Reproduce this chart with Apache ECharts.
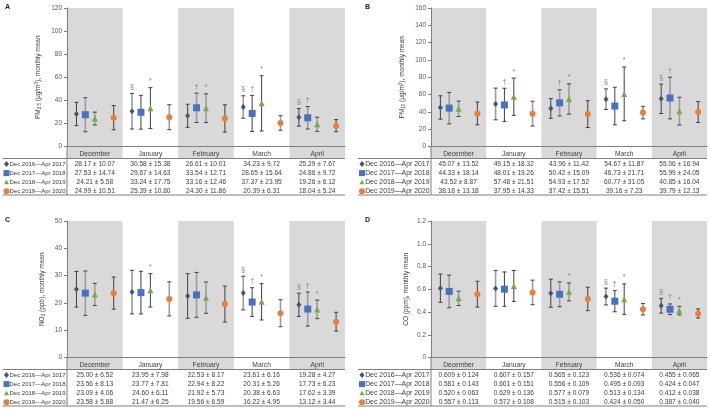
<!DOCTYPE html>
<html>
<head>
<meta charset="UTF-8">
<title>Air pollutants monthly mean</title>
<script src="https://cdn.jsdelivr.net/npm/echarts@6/dist/echarts.min.js"></script>
</head>
<body style="margin:0">
<div id="main" style="width:710px;height:409px"></div>
<script>
// categories
var months = ['December', 'January', 'February', 'March', 'April'];
var periods = ['Dec 2016\u2014Apr 2017', 'Dec 2017\u2014Apr 2018', 'Dec 2018\u2014Apr 2019', 'Dec 2019\u2014Apr 2020'];

// PM2.5 (ug/m3) mean and SD, one row per period
var pm25Mean = [
  [28.17, 30.58, 26.61, 34.23, 25.29],
  [27.53, 29.67, 33.54, 28.65, 24.86],
  [24.21, 33.24, 33.16, 37.37, 19.26],
  [24.99, 25.39, 24.30, 20.39, 18.04]
];
var pm25Sd = [
  [10.07, 15.38, 10.01, 9.72, 7.67],
  [14.74, 14.63, 12.71, 15.64, 9.72],
  [5.58, 17.75, 12.46, 23.95, 6.12],
  [10.51, 10.80, 11.86, 6.31, 5.24]
];
var pm25Marks = [
  ['', '\u00a7', '', '\u00a7', '\u00a7'],
  ['', '', '\u2020', '\u2020', '\u2020'],
  ['', '*', '*', '*', ''],
  ['', '', '', '', '']
];

// PM10
var pm10Mean = [
  [45.07, 49.15, 43.96, 54.67, 55.06],
  [44.33, 48.01, 50.42, 46.73, 55.99],
  [43.52, 57.48, 54.93, 60.77, 40.85],
  [38.18, 37.95, 37.42, 39.16, 39.79]
];
var pm10Sd = [
  [13.52, 18.32, 11.42, 11.87, 16.94],
  [18.14, 19.26, 15.09, 21.71, 24.05],
  [8.87, 21.51, 17.52, 31.05, 16.04],
  [13.18, 14.33, 15.51, 7.23, 12.13]
];
var pm10Marks = [
  ['', '', '', '\u00a7', '\u00a7'],
  ['', '\u2020', '\u2020', '', '\u2020'],
  ['', '*', '*', '*', ''],
  ['', '', '', '', '']
];

// NO2 (ppb)
var no2Mean = [
  [25.00, 23.95, 22.53, 23.61, 19.28],
  [23.56, 23.77, 22.94, 20.31, 17.73],
  [23.09, 24.60, 21.92, 20.38, 17.62],
  [23.58, 21.47, 19.56, 16.22, 13.12]
];
var no2Sd = [
  [6.52, 7.98, 8.17, 6.16, 4.27],
  [8.13, 7.81, 8.22, 5.26, 6.23],
  [4.06, 6.11, 5.73, 6.63, 3.39],
  [5.88, 6.25, 6.59, 4.95, 3.44]
];
var no2Marks = [
  ['', '', '', '\u00a7', '\u00a7'],
  ['', '', '', '\u2020', '\u2020'],
  ['', '*', '', '*', '*'],
  ['', '', '', '', '']
];

// CO (ppm)
var coMean = [
  [0.609, 0.607, 0.565, 0.536, 0.455],
  [0.581, 0.601, 0.556, 0.495, 0.424],
  [0.520, 0.629, 0.577, 0.513, 0.412],
  [0.557, 0.572, 0.515, 0.424, 0.387]
];
var coSd = [
  [0.124, 0.157, 0.123, 0.074, 0.065],
  [0.143, 0.151, 0.109, 0.093, 0.047],
  [0.063, 0.136, 0.079, 0.134, 0.038],
  [0.113, 0.108, 0.103, 0.050, 0.040]
];
var coMarks = [
  ['', '', '', '\u00a7', '\u00a7'],
  ['', '', '', '\u2020', '\u2020'],
  ['', '', '*', '*', '*'],
  ['', '', '', '', '']
];

// tick settings
var pm25Ticks = {max: 120, interval: 20};
var pm10Ticks = {max: 160, interval: 20};
var no2Ticks = {max: 50, interval: 10};
var coTicks = {max: 1.2, interval: 0.2};

var FONT = 'Liberation Sans';
var colors = ['#44546A', '#4472C4', '#70AD47', '#ED7D31'];
var symbols = ['diamond', 'rect', 'triangle', 'circle'];
var symSizes = [[5, 6], 7, 6, 6];
var offs = [0.17, 0.33, 0.5, 0.84];
var DARK = '#3f3f3f', LIGHT = '#9c9c9c';

var panels = [
  {tag: 'A', mean: pm25Mean, sd: pm25Sd, marks: pm25Marks, ticks: pm25Ticks, dec: 2,
   x0: 0, symX: 6.5, rowFont: 6, left: 67, width: 278, top: 8, height: 138.5, nameGap: 25,
   name: 'PM{sub|2.5} (\u03bcg/m{sup|3}), monthly mean'},
  {tag: 'B', mean: pm10Mean, sd: pm10Sd, marks: pm10Marks, ticks: pm10Ticks, dec: 2,
   x0: 360, symX: 362, rowFont: 6.9, left: 431, width: 276, top: 8, height: 138.5, nameGap: 25,
   name: 'PM{sub|10} (\u03bcg/m{sup|3}), monthly mean'},
  {tag: 'C', mean: no2Mean, sd: no2Sd, marks: no2Marks, ticks: no2Ticks, dec: 2,
   x0: 0, symX: 6.5, rowFont: 6, left: 67, width: 278, top: 221, height: 136.5, nameGap: 21,
   name: 'NO{sub|2} (ppb), monthly mean'},
  {tag: 'D', mean: coMean, sd: coSd, marks: coMarks, ticks: coTicks, dec: 3,
   x0: 360, symX: 362, rowFont: 6.9, left: 431, width: 276, top: 221, height: 136.5, nameGap: 21,
   name: 'CO (ppm), monthly mean'}
];

function barColor(s, m) {
  if (m % 2 === 0) return [DARK, LIGHT, LIGHT, DARK][s];
  return [LIGHT, DARK, DARK, LIGHT][s];
}

var grids = [], xAxes = [], yAxes = [], series = [];

panels.forEach(function (p, pi) {
  grids.push({left: p.left, width: p.width, top: p.top, height: p.height});
  // hidden value axis used to place the points inside each month
  xAxes.push({type: 'value', gridIndex: pi, min: 0, max: 5, show: false});
  // month labels + zero line
  xAxes.push({
    type: 'category', gridIndex: pi, data: months, position: 'bottom',
    axisLine: {lineStyle: {color: '#7f7f7f', width: 1}},
    axisTick: {show: false},
    axisLabel: {fontSize: 6.7, color: '#404040', fontFamily: FONT, margin: 4, interval: 0},
    splitLine: {show: false}
  });
  yAxes.push({
    type: 'value', gridIndex: pi, min: 0, max: p.ticks.max, interval: p.ticks.interval,
    name: p.name, nameLocation: 'middle', nameGap: p.nameGap, nameRotate: 90,
    nameTextStyle: {
      fontSize: 6.5, color: '#404040', fontFamily: FONT,
      rich: {
        sub: {fontSize: 4.5, verticalAlign: 'bottom', fontFamily: FONT, color: '#404040', padding: [3, 0, 0, 0]},
        sup: {fontSize: 4.5, verticalAlign: 'top', fontFamily: FONT, color: '#404040', padding: [0, 0, 3, 0]}
      }
    },
    axisLine: {show: true, lineStyle: {color: '#7f7f7f'}},
    axisTick: {show: true, length: 3, lineStyle: {color: '#7f7f7f'}},
    splitLine: {show: false},
    axisLabel: {
      fontSize: 6.5, color: '#595959', fontFamily: FONT, margin: 5,
      formatter: function (v) {
        if (v === 0) return '0';
        return p.dec === 3 ? v.toFixed(1) : String(Math.round(v));
      }
    }
  });

  // error bars
  var barData = [];
  var barMarks = [];
  for (var s = 0; s < 4; s++) {
    for (var m = 0; m < 5; m++) {
      barData.push([m + offs[s], p.mean[s][m] - p.sd[s][m], p.mean[s][m] + p.sd[s][m], s, m]);
      barMarks.push(p.marks[s][m]);
    }
  }
  series.push({
    type: 'custom', xAxisIndex: pi * 2, yAxisIndex: pi, clip: false, z: 1,
    data: barData,
    renderItem: function (params, api) {
      var x = api.value(0);
      var lo = api.coord([x, api.value(1)]);
      var hi = api.coord([x, api.value(2)]);
      var s = api.value(3), m = api.value(4);
      var col = barColor(s, m);
      var lw = col === LIGHT ? 1.6 : 1;
      var st = {stroke: col, lineWidth: lw};
      var ch = [
        {type: 'line', shape: {x1: lo[0], y1: lo[1], x2: hi[0], y2: hi[1]}, style: st},
        {type: 'line', shape: {x1: lo[0] - 2, y1: lo[1], x2: lo[0] + 2, y2: lo[1]}, style: {stroke: DARK, lineWidth: 1}},
        {type: 'line', shape: {x1: hi[0] - 2, y1: hi[1], x2: hi[0] + 2, y2: hi[1]}, style: {stroke: DARK, lineWidth: 1}}
      ];
      var mk = barMarks[params.dataIndex];
      if (mk) {
        ch.push({type: 'text', style: {
          text: mk, x: hi[0], y: hi[1] - 3, align: 'center', verticalAlign: 'bottom',
          fill: '#7f7f7f', font: '7px "' + FONT + '"'
        }});
      }
      return {type: 'group', children: ch};
    }
  });

  // markers
  for (var s2 = 0; s2 < 4; s2++) {
    series.push({
      type: 'scatter', xAxisIndex: pi * 2, yAxisIndex: pi, z: 3,
      symbol: symbols[s2], symbolSize: symSizes[s2],
      itemStyle: {color: colors[s2], opacity: 1},
      data: p.mean[s2].map(function (v, m) { return [m + offs[s2], v]; })
    });
  }
});

var chart = echarts.init(document.getElementById('main'), null, {renderer: 'canvas'});
chart.setOption({
  animation: false,
  backgroundColor: '#fff',
  grid: grids,
  xAxis: xAxes,
  yAxis: yAxes,
  series: series
});

// bands, table and panel letters
var g = [];
panels.forEach(function (p, pi) {
  var xa = {xAxisIndex: pi * 2};
  var ya = {yAxisIndex: pi};
  var X = function (v) { return chart.convertToPixel(xa, v); };
  var yTop = chart.convertToPixel(ya, p.ticks.max);
  var Z = chart.convertToPixel(ya, 0);
  var headLine = Z + 12;
  var bottomLine = Z + 48.5;
  var right = X(5);

  g.push({type: 'text', left: p.x0 + 5, top: p.top - 4, z: 10,
    style: {text: p.tag, font: 'bold 7px "' + FONT + '"', fill: '#222'}});

  [0, 2, 4].forEach(function (m) {
    g.push({type: 'rect', z: -1, shape: {x: X(m), y: yTop, width: X(m + 1) - X(m), height: headLine - yTop},
      style: {fill: '#d9d9d9'}});
  });

  var lx = p.symX - 4;
  g.push({type: 'line', z: 10, shape: {x1: lx, y1: headLine, x2: right, y2: headLine},
    style: {stroke: '#7f7f7f', lineWidth: 1}});
  g.push({type: 'line', z: 10, shape: {x1: lx, y1: bottomLine, x2: right, y2: bottomLine},
    style: {stroke: '#7f7f7f', lineWidth: 1}});
  g.push({type: 'line', z: 10, shape: {x1: p.left, y1: Z, x2: p.left, y2: bottomLine},
    style: {stroke: '#7f7f7f', lineWidth: 1}});

  for (var s = 0; s < 4; s++) {
    var ry = Z + 17.5 + s * 9.1;
    var cx = p.symX;
    var sym;
    if (s === 0) sym = {type: 'polygon', shape: {points: [[cx, ry - 3], [cx + 2.5, ry], [cx, ry + 3], [cx - 2.5, ry]]}};
    else if (s === 1) sym = {type: 'rect', shape: {x: cx - 3, y: ry - 3, width: 6, height: 6}};
    else if (s === 2) sym = {type: 'polygon', shape: {points: [[cx, ry - 2.5], [cx + 2.5, ry + 2], [cx - 2.5, ry + 2]]}};
    else sym = {type: 'circle', shape: {cx: cx, cy: ry, r: 3}};
    sym.style = {fill: colors[s]};
    sym.z = 10;
    g.push(sym);
    g.push({type: 'text', z: 10, style: {text: periods[s], x: p.left - 1.5, y: ry, verticalAlign: 'middle',
      align: 'right', font: p.rowFont + 'px "' + FONT + '"', fill: '#404040'}});
    for (var m = 0; m < 5; m++) {
      var txt = p.mean[s][m].toFixed(p.dec) + ' \u00b1 ' + p.sd[s][m].toFixed(p.dec);
      g.push({type: 'text', z: 10, style: {text: txt, x: X(m + 0.5), y: ry, align: 'center',
        verticalAlign: 'middle', font: '6.6px "' + FONT + '"', fill: '#404040'}});
    }
  }
});
chart.setOption({graphic: {elements: g}});
</script>
</body>
</html>
